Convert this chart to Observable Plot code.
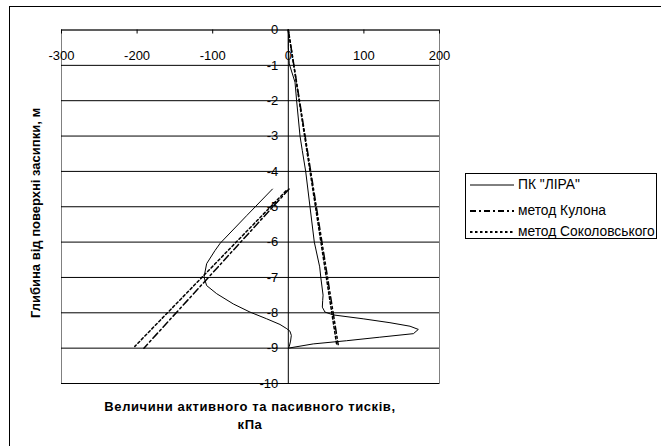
<!DOCTYPE html>
<html>
<head>
<meta charset="utf-8">
<script src="https://cdn.jsdelivr.net/npm/d3@7"></script>
<script src="https://cdn.jsdelivr.net/npm/@observablehq/plot@0.6"></script>
<style>
  html, body { margin: 0; padding: 0; background: #fff; }
  #wrap { position: relative; width: 661px; height: 446px; overflow: hidden; background: #fff;
          font-family: Arial, "Liberation Sans", sans-serif; color: #000; }
  #outer { position: absolute; left: 9px; top: 6px; width: 700px; height: 500px; border: 1px solid #000; box-sizing: border-box; }
  #chart { position: absolute; left: 0; top: 0; }
  .ytitle { position: absolute; left: 35px; top: 213px; transform: translate(-50%, -50%) rotate(-90deg);
            white-space: nowrap; font-weight: bold; font-size: 13px; color: #000; }
  .xtitle { position: absolute; left: 250px; top: 398px; transform: translateX(-50%); text-align: center;
            white-space: nowrap; font-weight: bold; font-size: 13px; line-height: 18px; letter-spacing: 0.6px; color: #000; }
  #legend { position: absolute; left: 465px; top: 173px; width: 192px; height: 66px; border: 1px solid #000;
            box-sizing: border-box; background: #fff; }
  .row { position: absolute; left: 0; height: 16px; display: flex; align-items: center; font-size: 13.8px; white-space: nowrap; color: #000; }
  .row svg { margin-left: 4px; margin-right: 4px; }
</style>
</head>
<body>
<div id="wrap">
  <div id="outer"></div>
  <div id="chart"></div>
  <div class="ytitle">Глибина від поверхні засипки, м</div>
  <div class="xtitle">Величини активного та пасивного тисків,<br>кПа</div>
  <div id="legend"></div>
</div>
<script>
// ---- data ----
const xTicks = [-300, -200, -100, 0, 100, 200];
const yTicks = [0, -1, -2, -3, -4, -5, -6, -7, -8, -9, -10];

const seriesNames = ["ПК \"ЛІРА\"", "метод Кулона", "метод Соколовського"];

// ПК "ЛІРА" (solid), x = pressure kPa, depth in m
const liraX = [0, 0, 1.3, 8.9, 11, 15.5, 18.5, 23, 28.7, 34.4, 41.5, 43, 46, 45.5, 45, 48.5, 59.5, 99, 134.5, 161, 172, 165.5, 121, 77, 33, 0,
               1.3, 3, 4, 2.2, -2, -11, -28.6, -50.7, -72.7, -94.7, -108, -111.5, -108, -97, -90, -55, -21];
const liraDepth = [0, -0.5, -0.96, -1.48, -2, -3, -3.41, -4, -5, -6, -6.7, -7, -7.5, -7.65, -7.84, -7.98, -8.06, -8.17, -8.28, -8.38, -8.47, -8.59, -8.69, -8.79, -8.88, -9.0,
               -8.95, -8.8, -8.64, -8.52, -8.45, -8.33, -8.17, -7.98, -7.75, -7.46, -7.23, -6.99, -6.61, -6.24, -6.03, -5.25, -4.5];

// метод Кулона (dash-dot): active and passive branches
const kulonActiveX = [1, -191];
const kulonActiveDepth = [-4.5, -9.0];
const kulonPassiveX = [0, 66];
const kulonPassiveDepth = [0, -8.9];

// метод Соколовського (dotted): active and passive branches
const sokolActiveX = [-3, -203];
const sokolActiveDepth = [-4.55, -8.95];
const sokolPassiveX = [0, 64];
const sokolPassiveDepth = [0, -8.9];

// ---- build tables ----
const rows = (xs, ds, branch) => xs.map((x, i) => ({x, depth: ds[i], branch}));
const lira = rows(liraX, liraDepth, "lira");
const kulon = [...rows(kulonActiveX, kulonActiveDepth, "a"), ...rows(kulonPassiveX, kulonPassiveDepth, "p")];
const sokol = [...rows(sokolActiveX, sokolActiveDepth, "a"), ...rows(sokolPassiveX, sokolPassiveDepth, "p")];

const W = 661, H = 446;
const mL = 61, mR = 222, mT = 29.5, mB = 63;
const plotH = H - mT - mB;

const chart = Plot.plot({
  width: W, height: H,
  marginLeft: mL, marginRight: mR, marginTop: mT, marginBottom: mB,
  style: { fontFamily: "Arial, 'Liberation Sans', sans-serif", fontSize: "13px", background: "transparent", color: "#000" },
  x: { domain: [-300, 200], axis: null },
  y: { domain: [-10, 0], axis: null },
  marks: [
    Plot.frame({ stroke: "#808080" }),
    Plot.ruleY(yTicks, { y: d => d, stroke: "#000", strokeWidth: 1 }),
    Plot.ruleX([0], { stroke: "#000", strokeWidth: 1 }),
    Plot.tickX(xTicks, { x: d => d, stroke: "#000", insetBottom: plotH - 4 }),
    Plot.line(sokol, { x: "x", y: "depth", z: "branch", stroke: "#000", strokeWidth: 1.5, strokeDasharray: "2.5,2.5" }),
    Plot.line(kulon, { x: "x", y: "depth", z: "branch", stroke: "#000", strokeWidth: 1.5, strokeDasharray: "7,3,2,3" }),
    Plot.line(lira, { x: "x", y: "depth", stroke: "#000", strokeWidth: 1 }),
    Plot.text(xTicks, { x: d => d, frameAnchor: "top", dy: 20.5, text: d => String(d), fontSize: 13, fill: "#000" }),
    Plot.text(yTicks, { x: 0, y: d => d, dx: -10, textAnchor: "end", text: d => String(d), fontSize: 13, fill: "#000" })
  ]
});
document.getElementById("chart").appendChild(chart);

// ---- legend ----
const legendStyles = [
  { dash: null, width: 1 },
  { dash: "6,3,2,3", width: 2 },
  { dash: "2.5,2.5", width: 2 }
];
const rowCenters = [10.5, 36.5, 57.5];
const legend = document.getElementById("legend");
seriesNames.forEach((name, i) => {
  const row = document.createElement("div");
  row.className = "row";
  row.style.top = (rowCenters[i] - 8) + "px";
  const s = legendStyles[i];
  row.innerHTML = `<svg width="44" height="6"><line x1="0" x2="44" y1="3" y2="3" stroke="#000" stroke-width="${s.width}" ${s.dash ? `stroke-dasharray="${s.dash}"` : ""}/></svg><span>${name.replace(/"/g, "&quot;")}</span>`;
  legend.appendChild(row);
});
</script>
</body>
</html>
